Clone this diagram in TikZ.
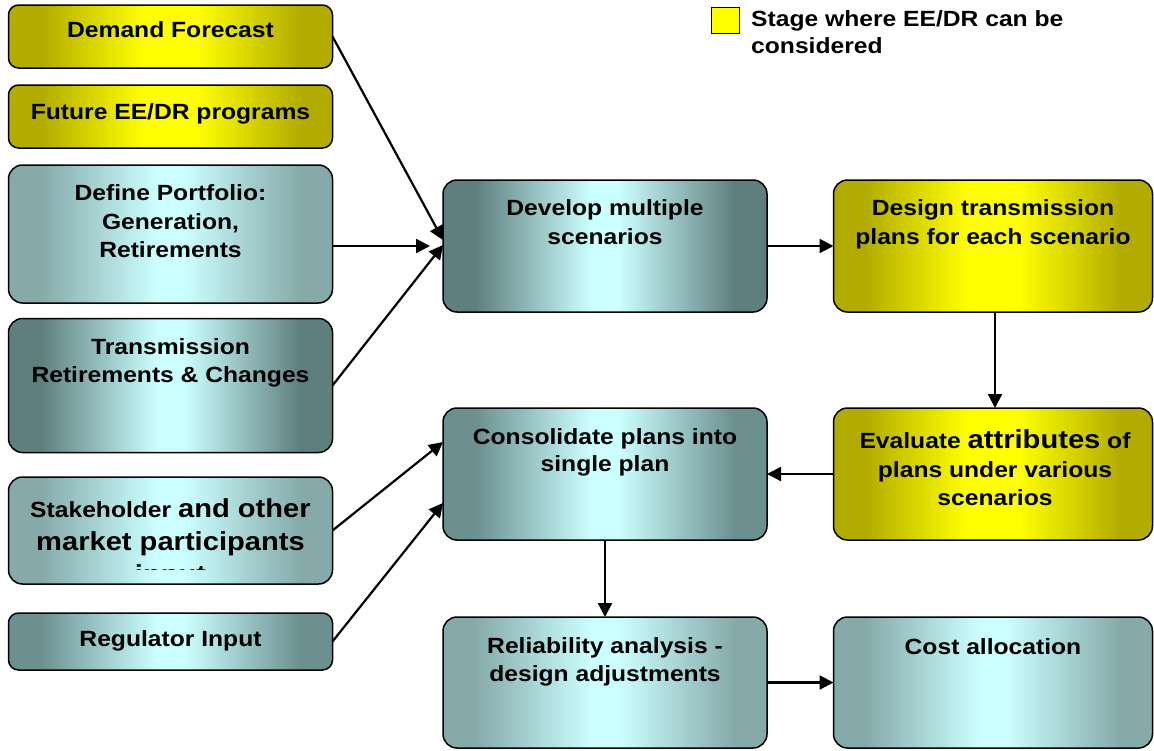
\documentclass[tikz,border=0pt]{standalone}
\usepackage{fontspec}
\newfontfamily\boxfont[FakeStretch=1.12]{Liberation Sans}
\usetikzlibrary{arrows.meta,shadings}
\definecolor{tedk}{RGB}{95,127,127}
\definecolor{temd}{RGB}{108,144,144}
\definecolor{telt}{RGB}{134,170,170}
\definecolor{tec}{RGB}{204,255,255}
\definecolor{yedg}{RGB}{178,172,0}
\definecolor{yc}{RGB}{255,255,0}
\pgfdeclarehorizontalshading{tealdk}{100bp}{color(0bp)=(tedk); color(30bp)=(tedk); color(48bp)=(tec); color(52bp)=(tec); color(70bp)=(tedk); color(100bp)=(tedk)}
\pgfdeclarehorizontalshading{tealmd}{100bp}{color(0bp)=(temd); color(30bp)=(temd); color(48bp)=(tec); color(52bp)=(tec); color(70bp)=(temd); color(100bp)=(temd)}
\pgfdeclarehorizontalshading{teallt}{100bp}{color(0bp)=(telt); color(30bp)=(telt); color(48bp)=(tec); color(52bp)=(tec); color(70bp)=(telt); color(100bp)=(telt)}
\pgfdeclarehorizontalshading{yelsh}{100bp}{color(0bp)=(yedg); color(30bp)=(yedg); color(46bp)=(yc); color(54bp)=(yc); color(70bp)=(yedg); color(100bp)=(yedg)}
\newcommand\bigtxt[1]{{\fontsize{26}{33.3}\selectfont #1}}
\begin{document}
\begin{tikzpicture}[x=1pt,y=-1pt,
  box/.style={draw=black, line width=1.5pt, rounded corners=14pt, inner sep=0pt, outer sep=0pt, minimum width=324pt},
  smallbox/.style={box, rounded corners=10pt},
  txt/.style={inner sep=0pt, align=center, anchor=north, font=\boxfont\bfseries\fontsize{22}{28.5}\selectfont},
  arr/.style={line width=2.2pt, -{Triangle[length=14pt,width=14pt]}}]
\useasboundingbox (0,0) rectangle (1154,750);
% left column
\node[smallbox, minimum height=63pt, shading=yelsh] (demand) at (170.5,36.5) {};
\node[smallbox, minimum height=63pt, shading=yelsh] (future) at (170.5,116.5) {};
\node[box, minimum height=138pt, shading=teallt] (define) at (170.5,234) {};
\node[box, minimum height=134pt, shading=tealdk] (trans) at (170.5,385.5) {};
\node[box, minimum height=107pt, shading=teallt] (stake) at (170.5,530.5) {};
\node[smallbox, minimum height=57pt, shading=tealmd] (reg) at (170.5,641.5) {};
% middle column
\node[box, minimum height=132pt, shading=tealdk] (develop) at (605,246) {};
\node[box, minimum height=132pt, shading=tealmd] (consol) at (605,474) {};
\node[box, minimum height=131pt, shading=teallt] (reliab) at (605,682.5) {};
% right column
\node[box, minimum width=319pt, minimum height=132pt, shading=yelsh] (design) at (993,246) {};
\node[box, minimum width=319pt, minimum height=132pt, shading=yelsh] (evaluate) at (993,474) {};
\node[box, minimum width=319pt, minimum height=131pt, shading=teallt] (cost) at (993,682.5) {};
% texts
\node[txt] (demandT) at (170.5,21.3) {Demand Forecast};
\node[txt] (futureT) at (170.5,103) {Future EE/DR programs};
\node[txt] (defineT) at (170.5,184.7) {Define Portfolio:\\Generation,\\Retirements};
\node[txt, font=\boxfont\bfseries\fontsize{22}{28.7}\selectfont] (transT) at (170.5,338) {Transmission\\Retirements \& Changes};
\begin{scope}
\clip (0,0) rectangle (1154,569.5);
\node[txt, font=\boxfont\bfseries\fontsize{22}{33.3}\selectfont] (stakeT) at (170.5,498.3) {Stakeholder \bigtxt{and other}\\\bigtxt{market participants}\\\bigtxt{input}};
\end{scope}
\node[txt] (regT) at (170.5,630.7) {Regulator Input};
\node[txt, font=\boxfont\bfseries\fontsize{22}{29}\selectfont] (developT) at (605,199) {Develop multiple\\scenarios};
\node[txt, font=\boxfont\bfseries\fontsize{22}{27.7}\selectfont] (consolT) at (605,428) {Consolidate plans into\\single plan};
\node[txt] (reliabT) at (605,637.3) {Reliability analysis -\\design adjustments};
\node[txt] (designT) at (993,199.7) {Design transmission\\plans for each scenario};
\node[txt, font=\boxfont\bfseries\fontsize{22}{28.8}\selectfont] (evaluateT) at (995,429.3) {Evaluate \bigtxt{attributes} of\\plans under various\\scenarios};
\node[txt] (costT) at (993,638) {Cost allocation};
% legend
\node[draw=black, line width=1.5pt, fill=yc, minimum width=28pt, minimum height=25.8pt, inner sep=0pt] (legbox) at (725.5,20.4) {};
\node[txt, anchor=north west, align=left, font=\boxfont\bfseries\fontsize{22}{27.4}\selectfont] (legT) at (751,10) {Stage where EE/DR can be\\considered};
% connectors
\draw[arr] (demand.east) -- ([yshift=6pt]develop.west);
\draw[arr] (define.east |- develop.west) -- ([xshift=-13pt]develop.west);
\draw[arr] (trans.east) -- ([yshift=1pt]develop.west);
\draw[arr] (stake.east) -- ([yshift=32pt]consol.west);
\draw[arr] (reg.east) -- ([yshift=-29pt]consol.west);
\draw[arr] (develop.east) -- (design.west);
\draw[arr] ([xshift=2pt]design.south) -- ([xshift=2pt]evaluate.north);
\draw[arr] (evaluate.west) -- (consol.east);
\draw[arr] (consol.south) -- (reliab.north);
\draw[arr] (reliab.east) -- (cost.west);
\end{tikzpicture}
\end{document}
